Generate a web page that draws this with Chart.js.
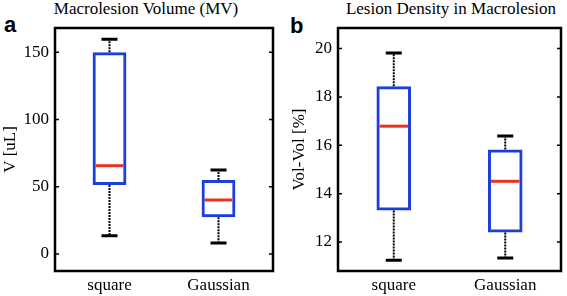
<!DOCTYPE html>
<html lang="en">
<head>
  <meta charset="UTF-8">
  <title>Macrolesion boxplots</title>
  <script src="https://cdn.jsdelivr.net/npm/chart.js"></script>
  <style>
    body { margin: 0; background: white; width: 567px; height: 296px; overflow: hidden; position: relative; }
    .panel { position: absolute; top: 0; }
    .title { position: absolute; font-family: "Liberation Serif", serif; font-size: 17px; line-height: 17px; text-align: center; width: 220px; color: black; white-space: nowrap; }
    .letter { position: absolute; font-family: "Liberation Sans", Arial, sans-serif; font-weight: bold; font-size: 22px; line-height: 22px; color: black; }
  </style>
</head>
<body>

<div class="letter" style="left:4px; top:14px;">a</div>
<div class="letter" style="left:290px; top:15px;">b</div>
<div class="title" style="left:36px; top:0px;">Macrolesion Volume (MV)</div>
<div class="title" style="left:341px; top:0px;">Lesion Density in Macrolesion</div>

<div class="panel" style="left:0px;"><canvas id="chartA" width="283" height="296"></canvas></div>
<div class="panel" style="left:283px;"><canvas id="chartB" width="284" height="296"></canvas></div>

<script>
  const categories = ["square", "Gaussian"];

  // Macrolesion Volume (MV) [uL]
  const mvMin = [13.6, 8.2];
  const mvQ1 = [51.3, 27.3];
  const mvMedian = [65.6, 40.1];
  const mvQ3 = [150.0, 55.0];
  const mvMax = [159.7, 62.4];
  const mvTicks = [0, 50, 100, 150];

  // Lesion density, Vol-Vol [%]
  const ldMin = [11.24, 11.34];
  const ldQ1 = [13.3, 12.39];
  const ldMedian = [16.79, 14.51];
  const ldQ3 = [18.44, 15.83];
  const ldMax = [19.82, 16.38];
  const ldTicks = [12, 14, 16, 18, 20];

  const BLUE = "#1c3fdc";
  const RED = "#e8321e";
  const serif = "'Liberation Serif', 'Times New Roman', serif";

  // whiskers, caps, medians, frame and inward ticks, all placed through the chart scales
  function boxExtras(mins, meds, maxs, q1s, q3s) {
    return {
      id: "boxExtras",
      afterDatasetsDraw(chart) {
        const ctx = chart.ctx;
        const xs = chart.scales.x, ys = chart.scales.y;
        const meta = chart.getDatasetMeta(0);
        const area = chart.chartArea;
        ctx.save();
        categories.forEach((c, i) => {
          const cx = xs.getPixelForValue(i);
          const half = meta.data[i].width / 2;

          // dotted whiskers
          ctx.strokeStyle = "black";
          ctx.lineWidth = 2;
          ctx.setLineDash([2, 1]);
          ctx.beginPath();
          ctx.moveTo(cx, ys.getPixelForValue(q3s[i]));
          ctx.lineTo(cx, ys.getPixelForValue(maxs[i]));
          ctx.moveTo(cx, ys.getPixelForValue(q1s[i]));
          ctx.lineTo(cx, ys.getPixelForValue(mins[i]));
          ctx.stroke();

          // caps
          ctx.setLineDash([]);
          ctx.lineWidth = 3;
          ctx.beginPath();
          ctx.moveTo(cx - 8, ys.getPixelForValue(maxs[i]));
          ctx.lineTo(cx + 8, ys.getPixelForValue(maxs[i]));
          ctx.moveTo(cx - 8, ys.getPixelForValue(mins[i]));
          ctx.lineTo(cx + 8, ys.getPixelForValue(mins[i]));
          ctx.stroke();

          // median
          ctx.strokeStyle = RED;
          ctx.beginPath();
          ctx.moveTo(cx - half + 3, ys.getPixelForValue(meds[i]));
          ctx.lineTo(cx + half - 3, ys.getPixelForValue(meds[i]));
          ctx.stroke();
        });

        // frame
        ctx.strokeStyle = "black";
        ctx.lineWidth = 2.5;
        ctx.strokeRect(area.left, area.top, area.right - area.left, area.bottom - area.top);

        // inward ticks on both sides
        ctx.lineWidth = 1.5;
        ys.ticks.forEach(t => {
          const py = ys.getPixelForValue(t.value);
          ctx.beginPath();
          ctx.moveTo(area.left, py);
          ctx.lineTo(area.left + 4, py);
          ctx.moveTo(area.right, py);
          ctx.lineTo(area.right - 4, py);
          ctx.stroke();
        });
        ctx.restore();
      }
    };
  }

  function makeChart(id, q1s, q3s, mins, meds, maxs, yMin, yMax, ticks, yTitle, rightPad, titlePad) {
    return new Chart(document.getElementById(id), {
      type: "bar",
      data: {
        labels: categories,
        datasets: [{
          data: categories.map((c, i) => [q1s[i], q3s[i]]),
          backgroundColor: "rgba(0,0,0,0)",
          borderColor: BLUE,
          borderWidth: 3,
          borderSkipped: false,
          categoryPercentage: 1,
          barPercentage: 0.31
        }]
      },
      options: {
        responsive: false,
        animation: false,
        layout: { padding: { left: 0, right: rightPad, top: 28, bottom: 0 } },
        plugins: { legend: { display: false }, title: { display: false }, tooltip: { enabled: false } },
        scales: {
          x: {
            grid: { display: false, drawTicks: false },
            border: { display: false },
            ticks: { color: "black", font: { family: serif, size: 17 }, padding: 4 },
            afterFit: s => { s.height = 25; }
          },
          y: {
            min: yMin,
            max: yMax,
            afterBuildTicks: s => { s.ticks = ticks.map(v => ({ value: v })); },
            grid: { display: false, drawTicks: false },
            border: { display: false },
            ticks: { color: "black", font: { family: serif, size: 17 }, padding: 6 },
            title: { display: true, text: yTitle, color: "black", font: { family: serif, size: 17 }, padding: { top: titlePad, bottom: 0 } },
            afterFit: s => { s.width = 55; }
          }
        }
      },
      plugins: [boxExtras(mins, meds, maxs, q1s, q3s)]
    });
  }

  makeChart("chartA", mvQ1, mvQ3, mvMin, mvMedian, mvMax, -12.7, 168, mvTicks, "V [uL]", 10, 0);
  makeChart("chartB", ldQ1, ldQ3, ldMin, ldMedian, ldMax, 10.8, 20.85, ldTicks, "Vol-Vol [%]", 6, 6);
</script>

</body>
</html>
